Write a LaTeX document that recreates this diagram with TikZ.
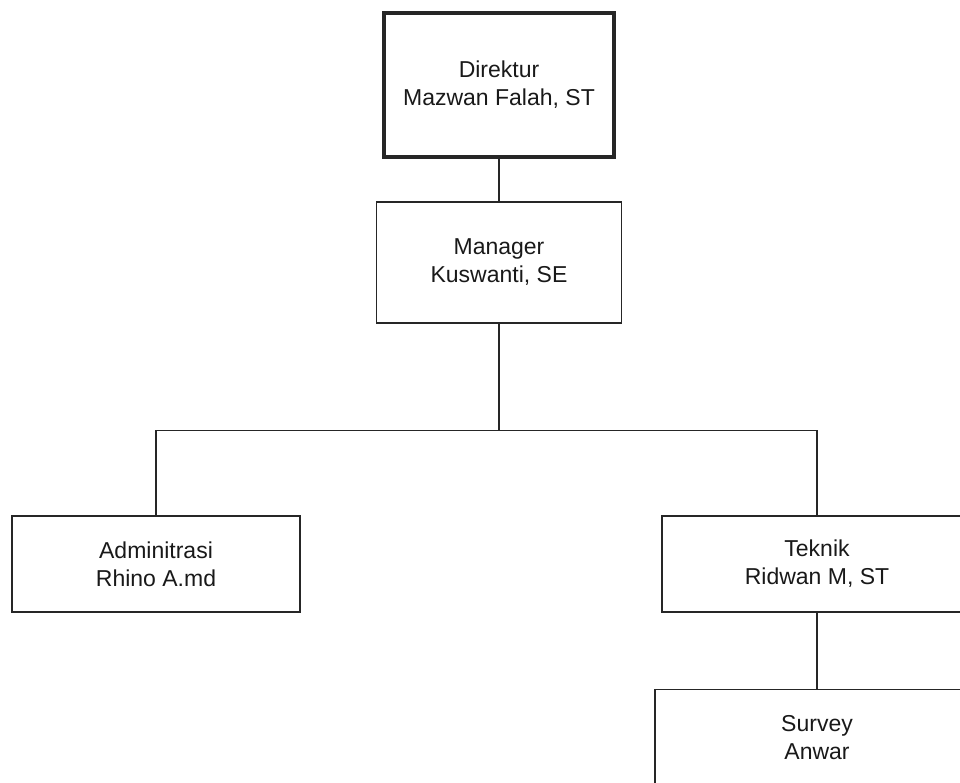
\documentclass[tikz,border=0pt]{standalone}
\usepackage{fontspec}
\setmainfont{Liberation Sans}
\usepackage{tikz}
\usetikzlibrary{positioning}
\tikzset{
	box/.style={rectangle,draw=black!85,line width=1.4pt,align=center,inner sep=0pt,
		text=black!90,font=\fontsize{23}{28}\selectfont},
	topbox/.style={box,line width=3.5pt,minimum width=230pt,minimum height=144pt},
	midbox/.style={box,minimum width=245pt,minimum height=121pt},
	unitbox/.style={box,minimum height=96pt}
}

\begin{document}
\begin{tikzpicture}[x=1pt,y=1pt,line width=1.4pt,draw=black!85,
            level 1/.style={level distance=177.5pt},
            level 2/.style={sibling distance=661pt, level distance=301.5pt,
              edge from parent path={(\tikzparentnode.south) -- ++(0,-107) -| (\tikzchildnode.north)}},
            level 3/.style={level distance=173.5pt,
              edge from parent path={(\tikzparentnode.south) -- (\tikzchildnode.north)}}]
  \useasboundingbox (0,0) rectangle (960,-783);
  \node [topbox] (dir) at (499,-85) {Direktur\\Mazwan Falah, ST}
    child {node [midbox] (mgr) {Manager\\Kuswanti, SE}
      child [xshift=-12.5pt] {node [unitbox,minimum width=288pt] (adm) {Adminitrasi\\Rhino A.md}}
      child [xshift=-12.5pt] {node [unitbox,minimum width=310pt] (tek) {Teknik\\Ridwan M, ST}
        child {node [unitbox,minimum width=324pt] (srv) {Survey\\Anwar}}}};
\end{tikzpicture}
\end{document}
